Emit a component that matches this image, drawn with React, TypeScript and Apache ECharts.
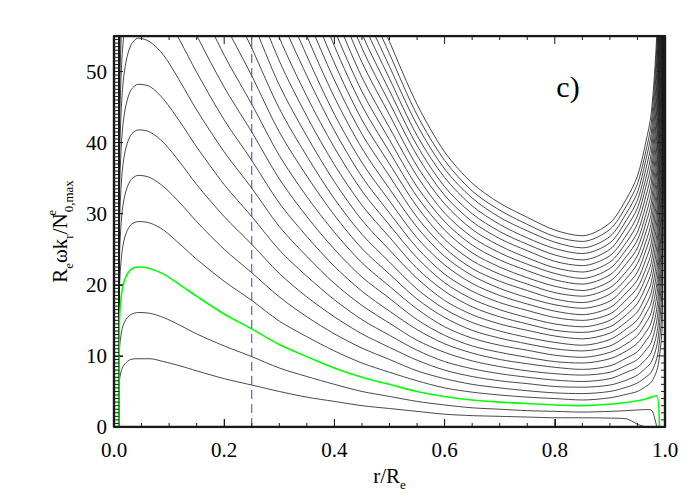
import React, { useEffect, useRef } from "react";
import * as echarts from "echarts";

// radial positions (r/Re) at which each curve was read
const rGrid = [0.009, 0.01, 0.014, 0.02, 0.03, 0.044, 0.065, 0.09, 0.12, 0.15, 0.2, 0.25, 0.3, 0.35, 0.4, 0.45, 0.5, 0.55, 0.6, 0.65, 0.7, 0.75, 0.8, 0.85, 0.9, 0.93, 0.95, 0.965, 0.975, 0.985, 0.99, 0.995, 0.999];

const w01 = [0, 6.5, 8.1, 8.9, 9.5, 9.6, 9.6, 9.2, 8.6, 7.9, 6.8, 5.9, 5.0, 4.2, 3.6, 3.0, 2.6, 2.2, 1.8, 1.6, 1.5, 1.4, 1.3, 1.3, 1.25, 1.15, 0.4, 0, null, null, null, null, null];
const w02 = [0, 10.8, 13.5, 14.9, 15.8, 16.1, 16.0, 15.4, 14.3, 13.1, 11.4, 9.9, 8.3, 7.1, 6.0, 5.0, 4.3, 3.6, 3.1, 2.7, 2.5, 2.3, 2.2, 2.1, 2.2, 2.3, 2.4, 2.45, 2.4, 0, null, null, null];
const w03 = [0, 15.1, 18.9, 20.8, 22.1, 22.5, 22.3, 21.5, 20.0, 18.4, 15.9, 13.8, 11.6, 9.9, 8.3, 7.0, 6.0, 5.0, 4.3, 3.8, 3.5, 3.3, 3.1, 3.0, 3.2, 3.45, 3.7, 3.95, 4.2, 4.4, 0, null, null];
const w04 = [0, 19.4, 24.3, 26.8, 28.4, 28.9, 28.7, 27.7, 25.7, 23.6, 20.5, 17.8, 14.9, 12.7, 10.7, 9.0, 7.7, 6.5, 5.5, 4.9, 4.5, 4.2, 4.0, 3.8, 4.1, 4.6, 5.0, 5.7, 6.3, 7.9, 9.9, 14.4, 63];
const w05 = [0, 23.7, 29.7, 32.7, 34.7, 35.4, 35.1, 33.8, 31.5, 28.9, 25.0, 21.7, 18.3, 15.5, 13.1, 11.1, 9.5, 7.9, 6.8, 6.0, 5.5, 5.1, 4.8, 4.7, 5.0, 5.6, 6.2, 7.0, 7.7, 9.6, 12.1, 17.6, 77];
const w06 = [0, 28.0, 35.1, 38.7, 41.0, 41.8, 41.5, 40.0, 37.2, 34.1, 29.6, 25.7, 21.6, 18.3, 15.5, 13.1, 11.2, 9.4, 8.0, 7.1, 6.5, 6.1, 5.7, 5.6, 5.9, 6.6, 7.3, 8.3, 9.1, 11.4, 14.3, 20.8, 91];
const w07 = [0, 32.3, 40.5, 44.6, 47.3, 48.2, 47.9, 46.1, 42.9, 39.4, 34.1, 29.6, 24.9, 21.2, 17.9, 15.1, 12.9, 10.8, 9.2, 8.2, 7.5, 7.0, 6.6, 6.4, 6.8, 7.7, 8.4, 9.5, 10.5, 13.1, 16.5, 24.0, 105];
const w08 = [0, 36.6, 45.9, 50.6, 53.6, 54.7, 54.2, 52.3, 48.6, 44.6, 38.7, 33.6, 28.2, 24.0, 20.2, 17.1, 14.6, 12.2, 10.5, 9.3, 8.5, 7.9, 7.5, 7.3, 7.7, 8.7, 9.5, 10.8, 11.9, 14.9, 18.7, 27.2, 119];
const w09 = [0, 40.9, 51.3, 56.5, 59.9, 61.1, 60.6, 58.4, 54.3, 49.9, 43.2, 37.5, 31.5, 26.8, 22.6, 19.1, 16.3, 13.7, 11.7, 10.4, 9.5, 8.9, 8.4, 8.1, 8.6, 9.7, 10.6, 12.1, 13.3, 16.6, 20.9, 30.4, 133];
const w10 = [0, 45.2, 56.7, 62.5, 66.2, 67.5, 67.0, 64.6, 60.1, 55.1, 47.8, 41.5, 34.9, 29.6, 25.0, 21.1, 18.1, 15.1, 12.9, 11.4, 10.5, 9.8, 9.2, 9.0, 9.6, 10.7, 11.8, 13.3, 14.7, 18.4, 23.1, 33.6, 147];
const w11 = [0, 49.5, 62.1, 68.4, 72.5, 73.9, 73.4, 70.7, 65.8, 60.4, 52.3, 45.4, 38.2, 32.4, 27.4, 23.1, 19.8, 16.6, 14.1, 12.5, 11.5, 10.8, 10.1, 9.8, 10.5, 11.7, 12.9, 14.6, 16.1, 20.1, 25.3, 36.8, 161];
const w12 = [0, 53.8, 67.5, 74.4, 78.8, 80.4, 79.8, 76.9, 71.5, 65.6, 56.9, 49.4, 41.5, 35.3, 29.8, 25.1, 21.5, 18.0, 15.4, 13.6, 12.5, 11.7, 11.0, 10.7, 11.4, 12.8, 14.0, 15.9, 17.5, 21.9, 27.5, 40.0, 175];
const w13 = [0, 58.1, 72.9, 80.3, 85.1, 86.8, 86.1, 83.0, 77.2, 70.9, 61.4, 53.3, 44.8, 38.1, 32.1, 27.1, 23.2, 19.4, 16.6, 14.7, 13.5, 12.6, 11.9, 11.5, 12.3, 13.8, 15.1, 17.1, 18.9, 23.6, 29.7, 43.2, 189];
const w14 = [0, 62.4, 78.3, 86.3, 91.4, 93.2, 92.5, 89.2, 82.9, 76.1, 66.0, 57.3, 48.1, 40.9, 34.5, 29.1, 24.9, 20.9, 17.8, 15.8, 14.5, 13.6, 12.8, 12.4, 13.2, 14.8, 16.2, 18.4, 20.3, 25.4, 31.9, 46.4, 203];
const w15 = [0, 66.7, 83.7, 92.2, 97.7, 99.7, 98.9, 95.3, 88.7, 81.4, 70.5, 61.2, 51.5, 43.7, 36.9, 31.2, 26.7, 22.3, 19.1, 16.9, 15.5, 14.5, 13.6, 13.3, 14.1, 15.8, 17.4, 19.7, 21.7, 27.1, 34.1, 49.6, 217];
const w16 = [0, 71.0, 89.1, 98.2, 104, 106, 105, 101, 94.4, 86.6, 75.1, 65.2, 54.8, 46.5, 39.3, 33.2, 28.4, 23.8, 20.3, 18.0, 16.5, 15.4, 14.5, 14.1, 15.0, 16.8, 18.5, 21.0, 23.1, 28.9, 36.3, 52.8, 231];
const w17 = [0, 75.3, 94.5, 104, 110, 113, 112, 108, 100, 91.9, 79.6, 69.1, 58.1, 49.4, 41.7, 35.2, 30.1, 25.2, 21.5, 19.1, 17.5, 16.4, 15.4, 15.0, 15.9, 17.9, 19.6, 22.2, 24.5, 30.6, 38.5, 56.0, 245];
const w18 = [0, 79.6, 99.9, 110, 117, 119, 118, 114, 106, 97.1, 84.2, 73.1, 61.4, 52.2, 44.0, 37.2, 31.8, 26.6, 22.8, 20.2, 18.5, 17.3, 16.3, 15.8, 16.8, 18.9, 20.7, 23.5, 25.9, 32.4, 40.7, 59.2, 259];
const w19 = [0, 83.9, 105, 116, 123, 125, 124, 120, 112, 102, 88.7, 77.0, 64.7, 55.0, 46.4, 39.2, 33.5, 28.1, 24.0, 21.3, 19.5, 18.2, 17.2, 16.7, 17.7, 19.9, 21.8, 24.8, 27.3, 34.1, 42.9, 62.4, 273];
const w20 = [0, 88.2, 111, 122, 129, 132, 131, 126, 117, 108, 93.3, 81.0, 68.1, 57.8, 48.8, 41.2, 35.3, 29.5, 25.2, 22.3, 20.5, 19.2, 18.0, 17.5, 18.7, 20.9, 23.0, 26.0, 28.7, 35.9, 45.1, 65.6, 287];
const w21 = [0, 92.5, 116, 128, 135, 138, 137, 132, 123, 113, 97.8, 84.9, 71.4, 60.6, 51.2, 43.2, 37.0, 31.0, 26.4, 23.4, 21.5, 20.1, 18.9, 18.4, 19.6, 21.9, 24.1, 27.3, 30.1, 37.6, 47.3, 68.8, 301];
const w22 = [0, 96.8, 122, 134, 142, 145, 144, 138, 129, 118, 102, 88.9, 74.7, 63.5, 53.6, 45.2, 38.7, 32.4, 27.7, 24.5, 22.5, 21.0, 19.8, 19.2, 20.5, 23.0, 25.2, 28.6, 31.5, 39.4, 49.5, 72.0, 315];
const w23 = [0, 101, 127, 140, 148, 151, 150, 145, 134, 123, 107, 92.8, 78.0, 66.3, 55.9, 47.2, 40.4, 33.8, 28.9, 25.6, 23.5, 22.0, 20.7, 20.1, 21.4, 24.0, 26.3, 29.8, 32.9, 41.1, 51.7, 75.2, 329];
const w24 = [0, 105, 132, 146, 154, 158, 156, 151, 140, 129, 111, 96.8, 81.3, 69.1, 58.3, 49.2, 42.1, 35.3, 30.1, 26.7, 24.5, 22.9, 21.6, 20.9, 22.3, 25.0, 27.4, 31.1, 34.3, 42.9, 53.9, 78.4, 343];
const w25 = [0, 110, 138, 152, 161, 164, 163, 157, 146, 134, 116, 101, 84.7, 71.9, 60.7, 51.3, 43.9, 36.7, 31.4, 27.8, 25.5, 23.8, 22.4, 21.8, 23.2, 26.0, 28.6, 32.4, 35.7, 44.6, 56.1, 81.6, 357];
const w26 = [0, 114, 143, 158, 167, 170, 169, 163, 152, 139, 121, 105, 88.0, 74.7, 63.1, 53.3, 45.6, 38.2, 32.6, 28.9, 26.5, 24.8, 23.3, 22.7, 24.1, 27.0, 29.7, 33.7, 37.1, 46.4, 58.3, 84.8, 371];
const w27 = [0, 118, 149, 164, 173, 177, 175, 169, 157, 144, 125, 109, 91.3, 77.6, 65.5, 55.3, 47.3, 39.6, 33.8, 30.0, 27.5, 25.7, 24.2, 23.5, 25.0, 28.1, 30.8, 34.9, 38.5, 48.1, 60.5, 88.0, 385];
const w28 = [0, 123, 154, 170, 180, 183, 182, 175, 163, 150, 130, 113, 94.6, 80.4, 67.8, 57.3, 49.0, 41.0, 35.1, 31.1, 28.5, 26.6, 25.1, 24.4, 25.9, 29.1, 31.9, 36.2, 39.9, 49.9, 62.7, 91.2, 399];
const w29 = [0, 127, 159, 176, 186, 190, 188, 181, 169, 155, 134, 117, 97.9, 83.2, 70.2, 59.3, 50.7, 42.5, 36.3, 32.2, 29.5, 27.6, 26.0, 25.2, 26.8, 30.1, 33.0, 37.5, 41.3, 51.6, 64.9, 94.4, 413];
const w30 = [0, 131, 165, 181, 192, 196, 195, 188, 174, 160, 139, 120, 101, 86.0, 72.6, 61.3, 52.5, 43.9, 37.5, 33.2, 30.5, 28.5, 26.8, 26.1, 27.8, 31.1, 34.2, 38.7, 42.7, 53.4, 67.1, 97.6, 427];
const w31 = [0, 135, 170, 187, 198, 203, 201, 194, 180, 165, 143, 124, 105, 88.8, 75.0, 63.3, 54.2, 45.4, 38.7, 34.3, 31.5, 29.5, 27.7, 26.9, 28.7, 32.1, 35.3, 40.0, 44.1, 55.1, 69.3, 101, 441];

const curves = [w01, w02, w03, w04, w05, w06, w07, w08, w09, w10, w11, w12, w13, w14, w15, w16, w17, w18, w19, w20, w21, w22, w23, w24, w25, w26, w27, w28, w29, w30, w31];
const greenCurve = 2;
const dashedR = 0.25;
const panelLabel = "c)";
const xMin = 0, xMax = 1, xMajor = 0.2, xMinorStep = 0.05;
const yMin = 0, yMax = 55, yMajor = 10;
const yMinorLeft = 0.5, yMinorRight = 1;

const SERIF = "Liberation Serif";
const INK = "#1a1a1a";
const GRID = { left: 114, right: 35, top: 36, bottom: 73 };
const W = 700, H = 500;

function stepValues(lo: number, hi: number, step: number): number[] {
  const out: number[] = [];
  const n = Math.round((hi - lo) / step);
  for (let i = 0; i <= n; i++) out.push(+(lo + i * step).toFixed(6));
  return out;
}
const isMultiple = (v: number, m: number) => Math.abs(v / m - Math.round(v / m)) < 1e-6;

export default function App() {
  const ref = useRef<HTMLDivElement>(null);
  useEffect(() => {
    const chart = echarts.init(ref.current as HTMLDivElement, null, { renderer: "svg" });
    const series: any[] = [];

    // frame and inward ticks drawn by a custom series through the axes' coordinates
    series.push({
      type: "custom",
      coordinateSystem: "cartesian2d",
      data: [[xMin, yMin]],
      silent: true,
      z: 10,
      renderItem: (_params: any, api: any) => {
        const c = (x: number, y: number) => api.coord([x, y]);
        const children: any[] = [];
        const line = (a: number[], b: number[], w: number) =>
          children.push({
            type: "polyline",
            shape: { points: [a, b] },
            style: { stroke: INK, lineWidth: w, fill: "none" },
            silent: true,
          });
        stepValues(xMin, xMax, xMinorStep).forEach((v) => {
          const len = isMultiple(v, xMajor) ? 8 : 4;
          const b = c(v, yMin);
          const t = c(v, yMax);
          line(b, [b[0], b[1] - len], 1);
          line(t, [t[0], t[1] + len], 1);
        });
        stepValues(yMin, yMax, yMinorLeft).forEach((v) => {
          const len = isMultiple(v, yMajor) ? 9 : 5;
          const p = c(xMin, v);
          line(p, [p[0] + len, p[1]], 1);
        });
        stepValues(yMin, yMax, yMinorRight).forEach((v) => {
          const len = isMultiple(v, yMajor) && v > 0 ? 8 : 4;
          const p = c(xMax, v);
          line(p, [p[0] - len, p[1]], 1);
        });
        children.push({
          type: "polyline",
          shape: { points: [c(xMin, yMin), c(xMin, yMax), c(xMax, yMax), c(xMax, yMin), c(xMin, yMin)] },
          style: { stroke: INK, lineWidth: 1.5, fill: "none" },
          silent: true,
        });
        return { type: "group", children };
      },
    });

    // the same frame as a clipped line series (backup rendering path)
    series.push({
      type: "line",
      data: [
        [xMin, yMin],
        [xMin, yMax],
        [xMax, yMax],
        [xMax, yMin],
        [xMin, yMin],
      ],
      showSymbol: false,
      symbol: "none",
      silent: true,
      z: 9,
      lineStyle: { color: INK, width: 2.4 },
    });

    curves.forEach((ys, k) => {
      series.push({
        type: "line",
        data: rGrid.map((x, i) => [x, ys[i]]).filter((p) => p[1] !== null),
        showSymbol: false,
        symbol: "none",
        smooth: 0.3,
        silent: true,
        z: k === greenCurve ? 5 : 2,
        lineStyle: {
          color: k === greenCurve ? "#00ff00" : INK,
          width: k === greenCurve ? 1.6 : 0.8,
        },
      });
    });
    series.push({
      type: "line",
      data: [
        [dashedR, yMin],
        [dashedR, yMax],
      ],
      showSymbol: false,
      symbol: "none",
      silent: true,
      z: 4,
      lineStyle: { color: "#3a3ae0", width: 1, type: [9, 5] },
    });

    const sub = { fontSize: 13, lineHeight: 13, fontFamily: SERIF, color: "#000", verticalAlign: "bottom" };
    const sup = { fontSize: 13, lineHeight: 13, fontFamily: SERIF, color: "#000", verticalAlign: "top" };
    const main = { fontSize: 21, lineHeight: 30, fontFamily: SERIF, color: "#000" };

    chart.setOption({
      animation: false,
      textStyle: { fontFamily: SERIF },
      grid: GRID,
      xAxis: {
        type: "value",
        min: xMin,
        max: xMax,
        interval: xMajor,
        splitLine: { show: false },
        axisLine: { show: true, onZero: false, lineStyle: { color: INK, width: 1.5 } },
        axisTick: { show: true, inside: true, length: 8, lineStyle: { color: INK, width: 1 } },
        axisLabel: {
          formatter: (v: number) => v.toFixed(1),
          fontFamily: SERIF,
          fontSize: 21,
          color: "#000",
          margin: 12,
        },
        name: "{m|r/R}{s|e}",
        nameLocation: "middle",
        nameGap: 34,
        nameTextStyle: { rich: { m: main, s: sub } },
      },
      yAxis: {
        type: "value",
        min: yMin,
        max: yMax,
        interval: yMajor,
        splitLine: { show: false },
        axisLine: { show: true, onZero: false, lineStyle: { color: INK, width: 1.5 } },
        axisTick: { show: true, inside: true, length: 9, lineStyle: { color: INK, width: 1 } },
        axisLabel: {
          showMaxLabel: false,
          fontFamily: SERIF,
          fontSize: 21,
          color: "#000",
          margin: 7,
        },
        name: "{m|R}{s|e}{m|ωk}{s|r}{m|/N}{p|e}{s|0,max}",
        nameLocation: "middle",
        nameGap: 38,
        nameTextStyle: { rich: { m: main, s: sub, p: { ...sup, width: 1 } } },
      },
      graphic: [
        {
          type: "text",
          x: 568,
          y: 86,
          z: 20,
          style: {
            text: panelLabel,
            font: `30px ${SERIF}`,
            fill: "#000",
            textAlign: "center",
            textVerticalAlign: "middle",
          },
        },
      ],
      series,
    });
    return () => chart.dispose();
  }, []);
  return <div ref={ref} style={{ position: "fixed", left: 0, top: 0, width: W, height: H, background: "#fff" }} />;
}
